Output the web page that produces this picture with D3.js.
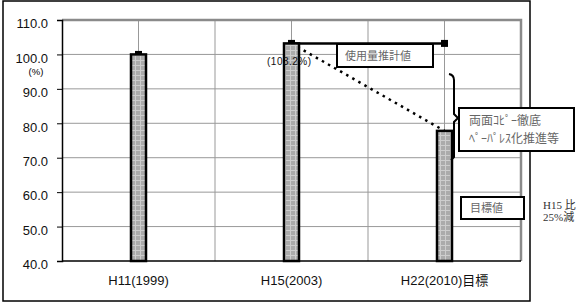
<!DOCTYPE html>
<html><head><meta charset="utf-8">
<script src="https://cdn.jsdelivr.net/npm/d3@7/dist/d3.min.js"></script>
<style>body{margin:0;background:#fff}svg{display:block}</style>
</head><body>
<svg id="c" width="580" height="308"></svg>
<script>
const categories = ["H11(1999)", "H15(2003)", "H22(2010)目標"];
const barValues = [100.0, 103.2, 77.8];
const barMarkers = [100.0, 103.2, null];
const estimateLine = [null, 103.2, 103.2];
const targetLine = [null, 103.2, 77.8];
const yTicks = [40, 50, 60, 70, 80, 90, 100, 110];
const estimateLabel = "使用量推計値";
const pointLabel = "(103.2%)";
const measureLines = ["両面ｺﾋﾟｰ徹底", "ﾍﾟｰﾊﾟﾚｽ化推進等"];
const targetLabel = "目標値";
const noteLines = ["H15 比", "25%減"];
const unitLabel = "(%)";

const svg = d3.select("#c");
const L = 62, R = 521, T = 20, B = 261;
const x = d3.scalePoint().domain(categories).range([L, R]).padding(0.5);
const y = d3.scaleLinear().domain([40, 110]).range([B, T]);
const step = x.step();
const barW = 15;
const sans = "'Liberation Sans', Arial, 'Noto Sans CJK JP', sans-serif";
const cjk = "'Noto Sans CJK JP', sans-serif";
const serif = "'Liberation Serif', 'Noto Sans CJK JP', serif";

// pattern
const defs = svg.append("defs");
const pat = defs.append("pattern").attr("id", "p").attr("patternUnits", "userSpaceOnUse")
  .attr("width", 5).attr("height", 5);
pat.append("rect").attr("width", 5).attr("height", 5).attr("fill", "#ababab");
pat.append("path").attr("d", "M0,0.5H5M0.5,0V5").attr("stroke", "#cdcdcd").attr("stroke-width", 1);

// outer border
svg.append("rect").attr("x", 3).attr("y", 1).attr("width", 527).attr("height", 300)
  .attr("fill", "#fff").attr("stroke", "#000").attr("stroke-width", 1.5);

// horizontal gridlines
svg.append("g").selectAll("line").data(yTicks.filter(d => d > 40 && d < 110)).join("line")
  .attr("x1", L).attr("x2", R).attr("y1", d => y(d)).attr("y2", d => y(d))
  .attr("stroke", "#999").attr("stroke-width", 1);
// vertical gridlines (category centers and boundaries)
const vgrid = [];
categories.forEach((c, i) => { vgrid.push(x(c)); if (i > 0) vgrid.push(x(c) - step / 2); });
svg.append("g").selectAll("line").data(vgrid).join("line")
  .attr("x1", d => d).attr("x2", d => d).attr("y1", T).attr("y2", B)
  .attr("stroke", "#999").attr("stroke-width", 1);

// plot frame: top/right gray
svg.append("path").attr("d", `M${L},${T}H${R}V${B}`).attr("fill", "none")
  .attr("stroke", "#8a8a8a").attr("stroke-width", 2.5);

// axes
const yAxis = d3.axisLeft(y).tickValues(yTicks).tickSize(5).tickFormat(d3.format(".1f"));
const gy = svg.append("g").attr("transform", `translate(${L},0)`).call(yAxis);
gy.select(".domain").attr("stroke", "#000").attr("stroke-width", 1.5);
gy.selectAll(".tick line").attr("stroke", "#000");
gy.selectAll(".tick text").attr("font-family", sans).attr("font-size", 13).attr("fill", "#111")
  .attr("x", -14).attr("dy", "0.6em");

const gx = svg.append("g").attr("transform", `translate(0,${B})`);
gx.append("line").attr("x1", L).attr("x2", R).attr("stroke", "#000").attr("stroke-width", 1.5);
gx.selectAll("line.t").data(vgrid.filter((d, i) => i % 2 === 1)).join("line").attr("class", "t")
  .attr("x1", d => d).attr("x2", d => d).attr("y1", -4).attr("y2", 0).attr("stroke", "#000");
gx.selectAll("text").data(categories).join("text")
  .attr("x", d => x(d)).attr("y", 24).attr("text-anchor", "middle")
  .attr("font-family", sans).attr("font-size", 13).attr("fill", "#111").text(d => d);

svg.append("text").attr("x", 36).attr("y", 75).attr("text-anchor", "middle")
  .attr("font-family", sans).attr("font-size", 9.5).attr("fill", "#000").text(unitLabel);

// lines (behind bars)
const lineGen = d3.line().defined(d => d[1] != null).x(d => x(d[0])).y(d => y(d[1]));
svg.append("path").datum(categories.map((c, i) => [c, estimateLine[i]]))
  .attr("d", lineGen).attr("fill", "none").attr("stroke", "#000").attr("stroke-width", 2.5);
svg.append("path").datum(categories.map((c, i) => [c, targetLine[i]]))
  .attr("d", lineGen).attr("fill", "none").attr("stroke", "#000").attr("stroke-width", 2.5)
  .attr("stroke-dasharray", "2.5,4.5");

// markers
svg.append("g").selectAll("rect").data(categories.map((c, i) => [c, barMarkers[i]]).filter(d => d[1] != null))
  .join("rect").attr("x", d => x(d[0]) - 3.5).attr("y", d => y(d[1]) - 3.5)
  .attr("width", 7).attr("height", 7).attr("fill", "#000");

// bars
svg.append("g").selectAll("rect").data(categories.map((c, i) => [c, barValues[i]]))
  .join("rect").attr("x", d => x(d[0]) - barW / 2).attr("y", d => y(d[1]))
  .attr("width", barW).attr("height", d => B - y(d[1]))
  .attr("fill", "url(#p)").attr("stroke", "#000").attr("stroke-width", 2.5);

// end marker of estimate line
svg.append("rect").attr("x", x(categories[2]) - 3.5).attr("y", y(estimateLine[2]) - 3.5)
  .attr("width", 7).attr("height", 7).attr("fill", "#000");

// point label
svg.append("text").attr("x", 267).attr("y", 65).attr("font-family", sans).attr("font-size", 10)
  .attr("letter-spacing", 0.5).attr("fill", "#111").text(pointLabel);

// estimate box
svg.append("rect").attr("x", 337).attr("y", 44).attr("width", 96).attr("height", 23)
  .attr("fill", "#fff").attr("stroke", "#000").attr("stroke-width", 2);
svg.append("text").attr("x", 345).attr("y", 60).attr("font-family", cjk).attr("font-size", 11)
  .attr("fill", "#666").text(estimateLabel);

// brace
svg.append("path").attr("d", "M449,74 Q454,75 454,80 L454,114 L458,118 L454,122 L454,157 L451,160")
  .attr("fill", "none").attr("stroke", "#000").attr("stroke-width", 2);

// measures box
svg.append("rect").attr("x", 459).attr("y", 108).attr("width", 115).attr("height", 43)
  .attr("fill", "#fff").attr("stroke", "#000").attr("stroke-width", 2);
svg.append("g").selectAll("text").data(measureLines).join("text")
  .attr("x", 469).attr("y", (d, i) => 125 + i * 18).attr("font-family", cjk).attr("font-size", 12)
  .attr("fill", "#666").text(d => d);

// target box
svg.append("rect").attr("x", 461).attr("y", 197).attr("width", 63).attr("height", 22)
  .attr("fill", "#fff").attr("stroke", "#000").attr("stroke-width", 2);
svg.append("text").attr("x", 470).attr("y", 212).attr("font-family", cjk).attr("font-size", 11)
  .attr("fill", "#666").text(targetLabel);

// note
svg.append("g").selectAll("text").data(noteLines).join("text")
  .attr("x", 543).attr("y", (d, i) => 209 + i * 12).attr("font-family", serif).attr("font-size", 11)
  .attr("fill", "#333").text(d => d);
</script>
</body></html>
